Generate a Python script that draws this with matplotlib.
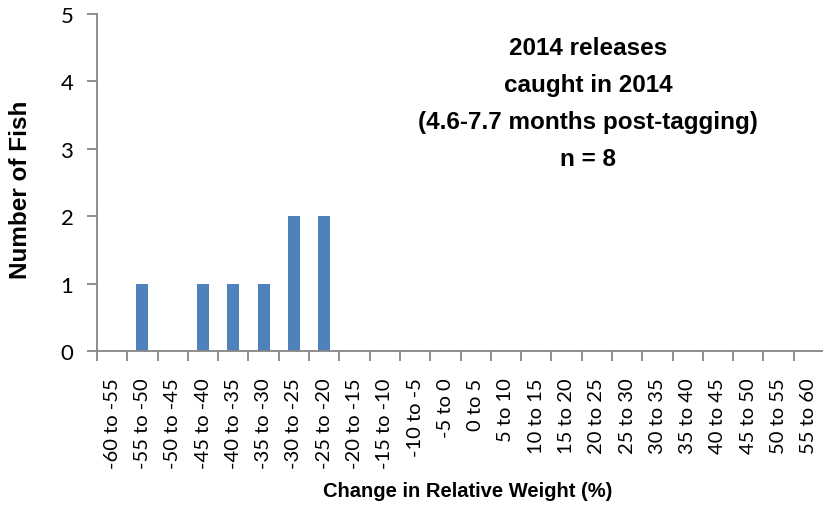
import numpy as np
import matplotlib.pyplot as plt
from matplotlib.ticker import FixedLocator

# bins of change in relative weight (%)
bin_labels = [
    "-60 to -55", "-55 to -50", "-50 to -45", "-45 to -40", "-40 to -35",
    "-35 to -30", "-30 to -25", "-25 to -20", "-20 to -15", "-15 to -10",
    "-10 to -5", "-5 to 0", "0 to 5", "5 to 10", "10 to 15", "15 to 20",
    "20 to 25", "25 to 30", "30 to 35", "35 to 40", "40 to 45", "45 to 50",
    "50 to 55", "55 to 60",
]
fish_counts = [0, 1, 0, 1, 1, 1, 2, 2, 0, 0, 0, 0, 0, 0, 0, 0, 0, 0, 0, 0, 0, 0, 0, 0]
y_ticks = [0, 1, 2, 3, 4, 5]

title_lines = ["2014 releases", "caught in 2014", "(4.6-7.7 months post-tagging)", "n = 8"]

W, H = 823, 506
fig = plt.figure(figsize=(W / 100, H / 100), dpi=100)
ax = fig.add_axes([97 / W, 1 - 352 / H, 727 / W, 337 / H])

x = np.arange(len(bin_labels))
ax.bar(x, fish_counts, width=0.4, color="#4F81BD", zorder=2)

axis_grey = "#868686"
ax.set_xlim(-0.5, len(bin_labels) - 0.5)
ax.set_ylim(0, 5)
for s in ["top", "right"]:
    ax.spines[s].set_visible(False)
for s in ["left", "bottom"]:
    ax.spines[s].set_color(axis_grey)
    ax.spines[s].set_linewidth(1.3)

tick_font = ["Lato", "DejaVu Sans"]
ax.set_yticks(y_ticks)
ax.set_yticklabels([str(v) for v in y_ticks], family=tick_font, fontsize=16)
ax.tick_params(axis="y", direction="out", length=7, width=1.3, color=axis_grey, pad=10)

ax.set_xticks(x)
ax.set_xticklabels(bin_labels, rotation=90, family=tick_font, fontsize=14.5)
ax.tick_params(axis="x", which="major", length=0, pad=19)
ax.xaxis.set_minor_locator(FixedLocator(np.arange(len(bin_labels) + 1) - 0.5))
ax.tick_params(axis="x", which="minor", direction="out", length=7, width=1.3, color=axis_grey)

label_font = ["Liberation Sans", "DejaVu Sans"]
ax.set_ylabel("Number of Fish", family=label_font, fontweight="bold", fontsize=17.5)
ax.yaxis.set_label_coords(21 / W, 1 - 190 / H, transform=fig.transFigure)
ax.set_xlabel("Change in Relative Weight (%)", family=label_font, fontweight="bold", fontsize=14.5)
ax.xaxis.set_label_coords(468 / W, 1 - 492 / H, transform=fig.transFigure)
ax.xaxis.label.set_va("center")
ax.yaxis.label.set_va("center")

fig.text(588 / W, 1 - 104 / H, "\n".join(title_lines), ha="center", va="center",
         family=label_font, fontweight="bold", fontsize=17.5, linespacing=1.78)

fig.savefig("out.png", dpi=100)
